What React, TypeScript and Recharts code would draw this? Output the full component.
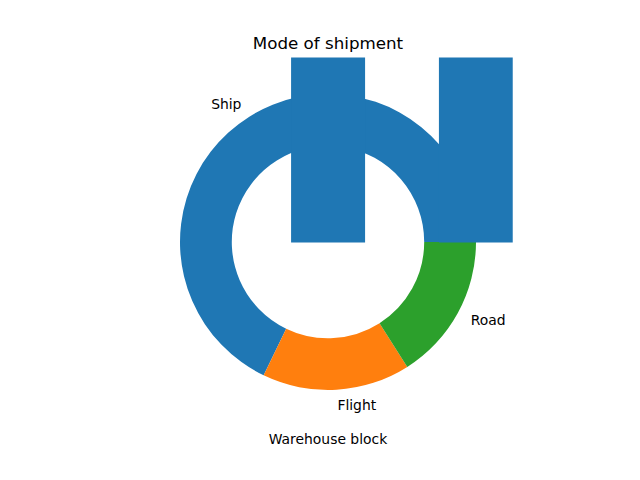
import { PieChart, Pie, Cell, BarChart, Bar, XAxis, YAxis } from 'recharts';

const shipModes = ['Ship', 'Flight', 'Road'];
const shipCounts = [7462, 1777, 1760];
const shipColors = ['#1f77b4', '#ff7f0e', '#2ca02c'];

const warehouseBlocks = ['A', 'B', 'C', 'D', 'F'];
const blockCounts = [1833, 1833, 1833, 1834, 3666];

const FONT = 'DejaVu Sans, sans-serif';
const CX = 328;
const CY = 242;
const R = 148;

const pieData = shipModes.map((name, i) => ({ name, value: shipCounts[i] }));
const barData = warehouseBlocks.map((block, i) => ({ block, x: i, count: blockCounts[i] }));

const RADIAN = Math.PI / 180;

function renderLabel(props: any) {
  const { midAngle, name } = props;
  const x = CX + 1.1 * R * Math.cos(midAngle * RADIAN);
  const y = CY - 1.1 * R * Math.sin(midAngle * RADIAN);
  return (
    <text
      x={x}
      y={y}
      fill="#000"
      fontSize={13.9}
      fontFamily={FONT}
      textAnchor={x > CX ? 'start' : 'end'}
      dominantBaseline="central"
    >
      {name}
    </text>
  );
}

export default function App() {
  return (
    <div style={{ position: 'absolute', left: 0, top: 0, width: 640, height: 480, background: '#fff' }}>
      <div style={{ position: 'absolute', left: 0, top: 0 }}>
        <PieChart width={640} height={480} margin={{ top: 0, right: 0, bottom: 0, left: 0 }}>
          <Pie
            data={pieData}
            dataKey="value"
            nameKey="name"
            cx={CX}
            cy={CY}
            outerRadius={R}
            innerRadius={R * 0.65}
            startAngle={0}
            endAngle={360}
            stroke="none"
            label={renderLabel}
            labelLine={false}
            isAnimationActive={false}
          >
            {pieData.map((entry, i) => (
              <Cell key={entry.name} fill={shipColors[i]} />
            ))}
          </Pie>
        </PieChart>
      </div>
      <div style={{ position: 'absolute', left: 0, top: 0 }}>
        <BarChart
          width={640}
          height={480}
          data={barData}
          margin={{ top: 57.6, right: 127.2, bottom: 52.8, left: 143.2 }}
        >
          <XAxis dataKey="x" type="number" domain={[-1.25, 1.25]} allowDataOverflow hide />
          <YAxis type="number" domain={[-1.25, 1.25]} allowDataOverflow hide />
          <Bar dataKey="count" fill="#1f77b4" barSize={74} isAnimationActive={false} />
        </BarChart>
      </div>
      <svg width={640} height={480} style={{ position: 'absolute', left: 0, top: 0, pointerEvents: 'none' }}>
        <text x={328} y={43} textAnchor="middle" dominantBaseline="central" fontSize={16.7} fontFamily={FONT} fill="#000">
          Mode of shipment
        </text>
        <text x={328} y={439} textAnchor="middle" dominantBaseline="central" fontSize={13.9} fontFamily={FONT} fill="#000">
          Warehouse block
        </text>
      </svg>
    </div>
  );
}
